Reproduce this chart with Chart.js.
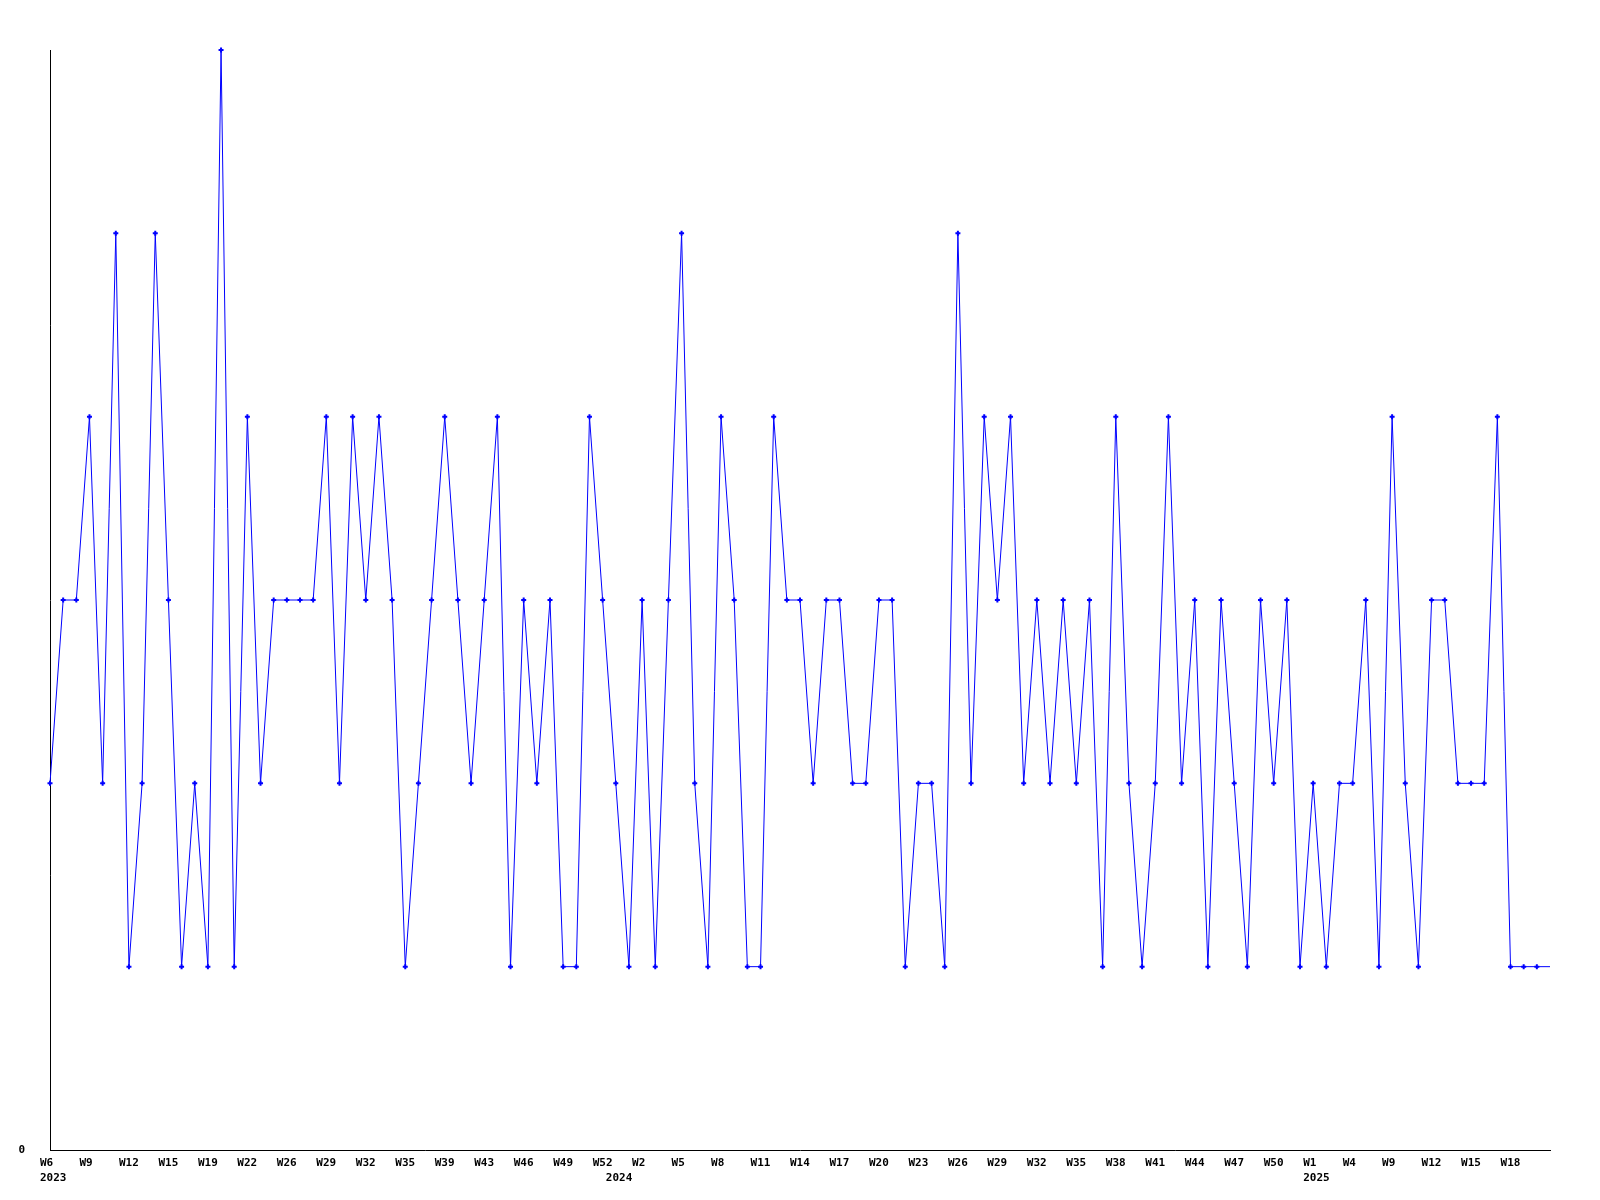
<!DOCTYPE html>
<html lang="en">
<head>
    <meta charset="UTF-8">
    <title>Weekly count</title>
    <style>
        body { margin: 0; background: #FFFFFF; }
        #chart-container { width: 1600px; height: 1200px; }
        canvas { background-color: white; }
    </style>
    <script src="https://cdn.jsdelivr.net/npm/chart.js"></script>
</head>
<body>
    <div id="chart-container">
        <canvas id="weekChart" width="1600" height="1200"></canvas>
    </div>

    <script>
        // Week labels, one per data point (only every 3rd is printed on the axis)
        const weeks2023 = ["W6","W7","W8","W9","W10","W11","W12","W13","W14","W15","W16","W17","W19","W20","W21","W22","W23","W25","W26","W27","W28","W29","W30","W31","W32","W33","W34","W35","W36","W38","W39","W40","W41","W43","W44","W45","W46","W47","W48","W49","W50","W51","W52"];
        const weeks2024 = ["W0","W1","W2","W3","W4","W5","W6","W7","W8","W9","W10","W11","W12","W13","W14","W15","W16","W17","W18","W19","W20","W21","W22","W23","W24","W25","W26","W27","W28","W29","W30","W31","W32","W33","W34","W35","W36","W37","W38","W39","W40","W41","W42","W43","W44","W45","W46","W47","W48","W49","W50","W51","W52"];
        const weeks2025 = ["W1","W2","W3","W4","W7","W8","W9","W10","W11","W12","W13","W14","W15","W16","W17","W18","W19","W20","W21"];

        // Values per week
        const values2023 = [2,3,3,4,2,5,1,2,5,3,1,2,1,6,1,4,2,3,3,3,3,4,2,4,3,4,3,1,2,3,4,3,2,3,4,1,3,2,3,1,1,4,3];
        const values2024 = [2,1,3,1,3,5,2,1,4,3,1,1,4,3,3,2,3,3,2,2,3,3,1,2,2,1,5,2,4,3,4,2,3,2,3,2,3,1,4,2,1,2,4,2,3,1,3,2,1,3,2,3,1];
        const values2025 = [2,1,2,2,3,1,4,2,1,3,3,2,2,2,4,1,1,1,1];

        const labels = [...weeks2023, ...weeks2024, ...weeks2025];
        const values = [...values2023, ...values2024, ...values2025];

        // First index of each year gets the year printed under it
        const yearStarts = { 0: "2023", [weeks2023.length]: "2024", [weeks2023.length + weeks2024.length]: "2025" };

        const labelFont = { family: "'DejaVu Sans Mono', monospace", size: 11, weight: "bold", lineHeight: 1.35 };

        new Chart(document.getElementById("weekChart").getContext("2d"), {
            type: "line",
            data: {
                labels: labels,
                datasets: [{
                    data: values,
                    borderColor: "#0000FF",
                    backgroundColor: "#0000FF",
                    borderWidth: 1,
                    tension: 0,
                    fill: false,
                    clip: false,
                    pointStyle: "cross",
                    // the last (current) week is drawn without a marker
                    pointRadius: values.map((v, i) => i === values.length - 1 ? 0 : 2.5),
                    pointBorderWidth: 2,
                    pointHoverRadius: 0
                }]
            },
            options: {
                responsive: false,
                animation: false,
                layout: { padding: { top: 50, right: 50, left: 0, bottom: 0 } },
                plugins: { legend: { display: false }, tooltip: { enabled: false } },
                scales: {
                    x: {
                        type: "category",
                        offset: false,
                        grid: { display: false, drawTicks: false },
                        border: { display: true, color: "#000000", width: 1 },
                        afterFit: scale => { scale.height = 50; },
                        ticks: {
                            autoSkip: false,
                            maxRotation: 0,
                            minRotation: 0,
                            align: "start",
                            labelOffset: -10,
                            padding: 6,
                            color: "#000000",
                            font: labelFont,
                            callback: function (value, index) {
                                const week = (index % 3 === 0 && index < labels.length - 1) ? labels[index] : "";
                                if (yearStarts[index]) return [week, yearStarts[index]];
                                return week;
                            }
                        }
                    },
                    y: {
                        min: 0,
                        max: 6,
                        grid: { display: false, drawTicks: false },
                        border: { display: true, color: "#000000", width: 1 },
                        afterFit: scale => { scale.width = 50; },
                        ticks: {
                            stepSize: 1,
                            padding: 25,
                            color: "#000000",
                            font: labelFont,
                            callback: value => value === 0 ? "0" : ""
                        }
                    }
                }
            }
        });
    </script>
</body>
</html>
